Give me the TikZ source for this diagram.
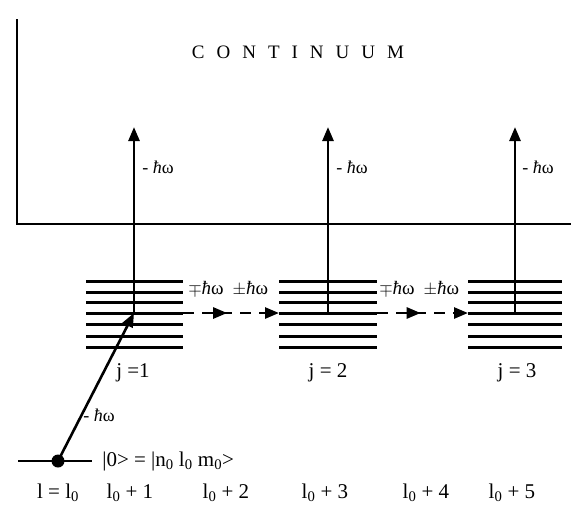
\documentclass[tikz,border=0pt]{standalone}
\usepackage{fontspec}
\setmainfont{Liberation Serif}
\usetikzlibrary{arrows.meta,decorations.markings}
\begin{document}
\begin{tikzpicture}[x=1pt,y=-1pt, line width=2.6pt,
  tipar/.style={-{Triangle[length=14pt,width=11pt]}},
  lvl/.style={line width=3pt},
  dasharrow/.style={line width=2.6pt, dash pattern=on 11pt off 8pt, -{Triangle[length=14pt,width=11pt]},
    postaction={decorate}, decoration={markings, mark=at position #1 with {\arrow{Triangle[length=14pt,width=11pt]}}}},
  lab/.style={font=\fontsize{21}{25}\selectfont, inner sep=0pt},
  hw/.style={font=\fontsize{18}{21}\selectfont, inner sep=0pt},
  pm/.style={font=\fontsize{19}{22}\selectfont, inner sep=0pt}]
\useasboundingbox (0,0) rectangle (571,515);
% continuum boundary
\coordinate (ctop) at (17,19);
\coordinate (ccorner) at (17,224);
\coordinate (cright) at (571,224);
\draw (ctop) -- (ccorner) -- (cright);
\node[lab, font=\fontsize{19}{23}\selectfont] (cont) at (298,52) {C\hspace{12pt}O\hspace{12pt}N\hspace{12pt}T\hspace{12pt}I\hspace{12pt}N\hspace{12pt}U\hspace{12pt}U\hspace{12pt}M};
% level stacks
\foreach \y in {281,292,302,313,324,336,347} {
  \draw[lvl] (86,\y) -- (183,\y);
  \draw[lvl] (279,\y) -- (377,\y);
  \draw[lvl] (468,\y) -- (562,\y);
}
\coordinate (s1L) at (86,313);  \coordinate (s1c) at (134,313); \coordinate (s1R) at (183,313);
\coordinate (s2L) at (279,313); \coordinate (s2c) at (328,313); \coordinate (s2R) at (377,313);
\coordinate (s3L) at (468,313); \coordinate (s3c) at (515,313);
\coordinate (a1) at (134,127); \coordinate (a2) at (328,127); \coordinate (a3) at (515,127);
\draw[tipar] (s1c) -- (a1);
\draw[tipar] (s2c) -- (a2);
\draw[tipar] (s3c) -- (a3);
\node[hw, anchor=west] (h1) at (141,167) {- \textit{ħ}ω};
\node[hw, anchor=west] (h2) at (335,167) {- \textit{ħ}ω};
\node[hw, anchor=west] (h3) at (521,167) {- \textit{ħ}ω};
% dashed transitions
\draw[dasharrow=0.46] (s1R) -- (s2L);
\draw[dasharrow=0.48] (s2R) -- (s3L);
\node[pm, anchor=west] (pm1) at (187,289) {$\mp$\textit{ħ}ω\hspace{9pt}$\pm$\textit{ħ}ω};
\node[pm, anchor=west] (pm2) at (378,289) {$\mp$\textit{ħ}ω\hspace{9pt}$\pm$\textit{ħ}ω};
% j labels
\node[lab] (j1) at (133,373) {j =1};
\node[lab] (j2) at (328,373) {j = 2};
\node[lab] (j3) at (517,373) {j = 3};
% ground state
\coordinate (gL) at (18,461);
\coordinate (gR) at (92,461);
\coordinate (g) at (58,461);
\draw (gL) -- (gR);
\fill (g) circle (6.5pt);
\draw[tipar] (g) -- (s1c);
\node[hw, anchor=west] (h0) at (82,415) {- \textit{ħ}ω};
\node[lab, anchor=west] (ket) at (101,461) {|0> = |n\textsubscript{0} l\textsubscript{0} m\textsubscript{0}>};
% l labels
\node[lab] (l0) at (58,493) {l = l\textsubscript{0}};
\node[lab] (l1) at (130,493) {l\textsubscript{0} + 1};
\node[lab] (l2) at (226,493) {l\textsubscript{0} + 2};
\node[lab] (l3) at (325,493) {l\textsubscript{0} + 3};
\node[lab] (l4) at (426,493) {l\textsubscript{0} + 4};
\node[lab] (l5) at (512,493) {l\textsubscript{0} + 5};
\end{tikzpicture}
\end{document}
